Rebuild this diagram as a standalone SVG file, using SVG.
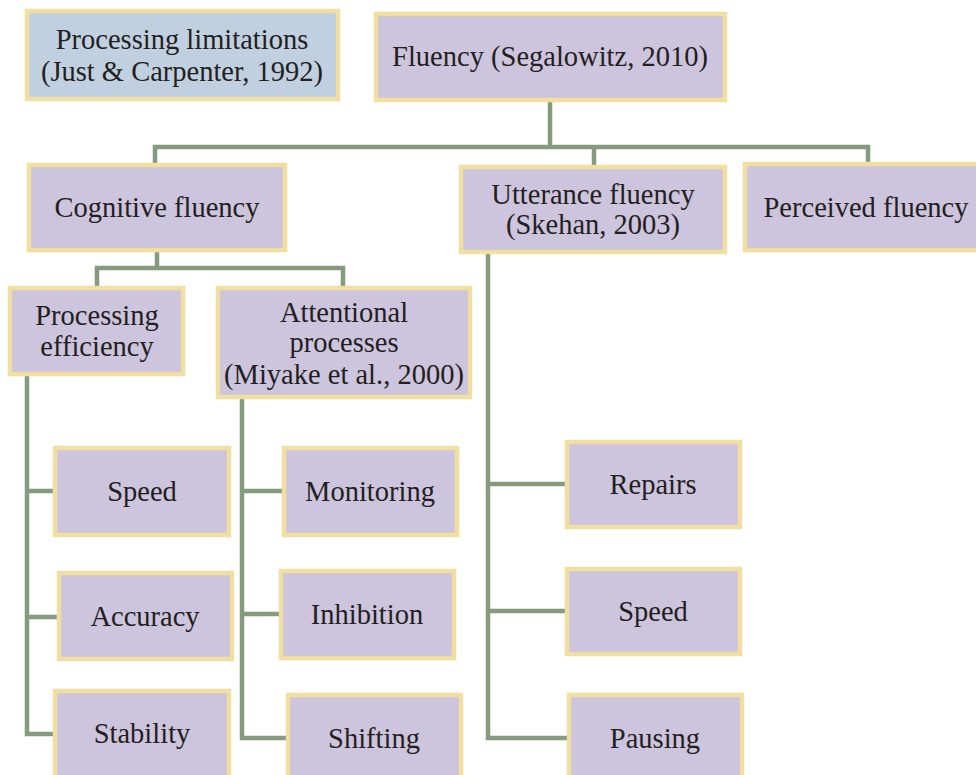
<svg xmlns="http://www.w3.org/2000/svg" width="976" height="775" viewBox="0 0 976 775">
<style>
.b{fill:#cdc4dd;stroke:#f0dfa0;stroke-width:4.5}
.bb{fill:#c1d0e0;stroke:#f0dfa0;stroke-width:4.5}
text{font-family:"Liberation Serif","DejaVu Serif",serif;font-size:28.5px;fill:#231f20;text-anchor:middle}
.c{fill:none;stroke:#859b7d;stroke-width:4.5;stroke-linejoin:miter}
</style>
<rect width="976" height="775" fill="#ffffff"/>
<g id="connectors">
<path class="c" d="M550 101V147M155 163V147H868V162M594 147V165"/>
<path class="c" d="M157 252V268M97 286V268H343V286"/>
<path class="c" d="M27 376V734H55M27 491H55M27 617H59"/>
<path class="c" d="M242 399V738H288M242 491H284M242 614H281"/>
<path class="c" d="M488 254V738H569M488 484H567M488 611H567"/>
</g>
<g id="processing-limitations"><rect class="bb" x="27" y="11" width="311" height="88"/><text x="182" y="49">Processing limitations</text><text x="182" y="81">(Just &amp; Carpenter, 1992)</text></g>
<g id="fluency"><rect class="b" x="376" y="14" width="349" height="86"/><text x="550" y="66">Fluency (Segalowitz, 2010)</text></g>
<g id="cognitive-fluency"><rect class="b" x="29" y="165" width="256" height="85"/><text x="157" y="217">Cognitive fluency</text></g>
<g id="utterance-fluency"><rect class="b" x="461" y="167" width="264" height="85"/><text x="593" y="204">Utterance fluency</text><text x="593" y="234">(Skehan, 2003)</text></g>
<g id="perceived-fluency"><rect class="b" x="745" y="164" width="240" height="86"/><text x="866" y="217">Perceived fluency</text></g>
<g id="processing-efficiency"><rect class="b" x="10" y="288" width="173" height="86"/><text x="97" y="325">Processing</text><text x="97" y="356">efficiency</text></g>
<g id="attentional-processes"><rect class="b" x="218" y="288" width="252" height="109"/><text x="344" y="322">Attentional</text><text x="344" y="352">processes</text><text x="344" y="384">(Miyake et al., 2000)</text></g>
<g id="speed-1"><rect class="b" x="55" y="448" width="174" height="87"/><text x="142" y="501">Speed</text></g>
<g id="accuracy"><rect class="b" x="59" y="573" width="173" height="86"/><text x="145" y="626">Accuracy</text></g>
<g id="stability"><rect class="b" x="55" y="691" width="174" height="95"/><text x="142" y="743">Stability</text></g>
<g id="monitoring"><rect class="b" x="284" y="448" width="173" height="87"/><text x="370" y="501">Monitoring</text></g>
<g id="inhibition"><rect class="b" x="281" y="571" width="173" height="87"/><text x="367" y="624">Inhibition</text></g>
<g id="shifting"><rect class="b" x="288" y="695" width="173" height="95"/><text x="374" y="748">Shifting</text></g>
<g id="repairs"><rect class="b" x="567" y="442" width="173" height="85"/><text x="653" y="494">Repairs</text></g>
<g id="speed-2"><rect class="b" x="567" y="569" width="173" height="85"/><text x="653" y="621">Speed</text></g>
<g id="pausing"><rect class="b" x="569" y="695" width="173" height="95"/><text x="655" y="748">Pausing</text></g>
</svg>
